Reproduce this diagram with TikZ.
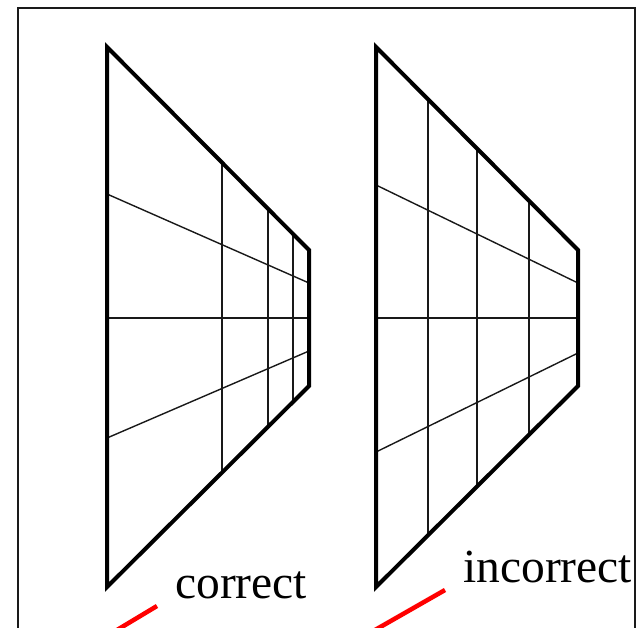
\documentclass[tikz,border=0pt]{standalone}
\usepackage{fontspec}
\setmainfont{Liberation Serif}
\usepackage{tikz}
\usepackage{xcolor}
\usetikzlibrary{calc}
\definecolor{frameink}{HTML}{1A1A1A}
\definecolor{markred}{HTML}{FF0000}
\tikzset{
  outerframe/.style = {draw=frameink, line width=2.6pt},
  trapez/.style     = {draw=black, line width=4pt, line join=miter},
  gridline/.style   = {draw=black!90, line width=1.4pt},
  marker/.style     = {draw=markred, line width=4.5pt},
  caption/.style    = {inner sep=0pt, anchor=base west,
                       font=\fontsize{47.5}{50}\selectfont},
}

\begin{document}
\begin{tikzpicture}[x=1pt, y=-1pt]
\useasboundingbox (0,0) rectangle (639,627);
\clip (0,0) rectangle (639,627);
\fill[white] (0,0) rectangle (639,627);
\draw[outerframe] (18,8) rectangle (635,660);

% left panel: correct perspective
\coordinate (la) at (107,47);
\coordinate (lb) at (309,250);
\coordinate (lc) at (309,386);
\coordinate (ld) at (107,587);
\foreach \t in {0.569,0.797,0.921}
  \draw[gridline] ($(la)!\t!(lb)$) -- ($(ld)!\t!(lc)$);
\draw[gridline] (107,194) -- (309,283);
\draw[gridline] (107,318) -- (309,318);
\draw[gridline] (107,438) -- (309,351);
\draw[trapez] (la) -- (lb) -- (lc) -- (ld) -- cycle;

% right panel: incorrect perspective
\coordinate (ra) at (376,47);
\coordinate (rb) at (578,250);
\coordinate (rc) at (578,386);
\coordinate (rd) at (376,587);
\foreach \t in {0.257,0.5,0.757}
  \draw[gridline] ($(ra)!\t!(rb)$) -- ($(rd)!\t!(rc)$);
\draw[gridline] (376,185) -- (578,283);
\draw[gridline] (376,318) -- (578,318);
\draw[gridline] (376,452) -- (578,353);
\draw[trapez] (ra) -- (rb) -- (rc) -- (rd) -- cycle;

% labels
\node[caption] (good) at (175,598) {correct};
\node[caption] (bad)  at (463,582) {incorrect};
\coordinate (goodtip) at (157,606);
\coordinate (goodend) at (117,630);
\coordinate (badtip)  at (445,590);
\coordinate (badend)  at (375,630);
\draw[marker] (goodtip) -- (goodend);
\draw[marker] (badtip) -- (badend);
\end{tikzpicture}
\end{document}
